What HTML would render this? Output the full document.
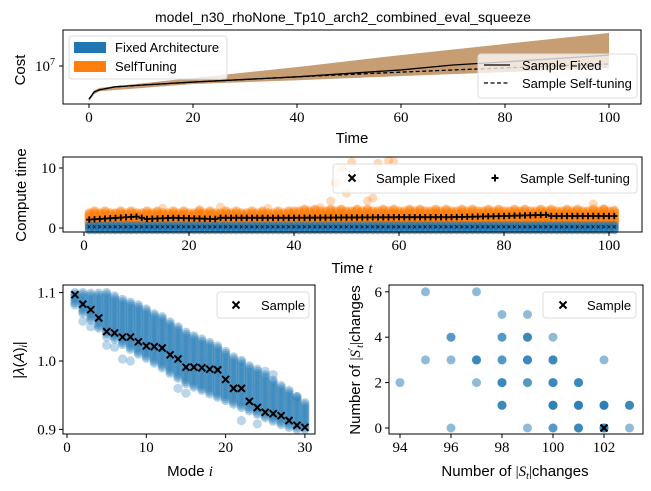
<!DOCTYPE html>
<html><head><meta charset="utf-8"><style>
body{margin:0;background:#fff;width:651px;height:491px;overflow:hidden}
svg{display:block}
text{font-family:"Liberation Sans",sans-serif;fill:#000}
.num{font-family:"Liberation Serif",serif;font-size:15px}
</style></head><body>
<svg id="fig" width="651" height="491"></svg>
<script>
// ---- Top panel data (cost, log scale)
const costT = [0,1,2,5,10,20,40,60,70,80,100];
const costFixed = [2.8e6,3.7e6,4.0e6,4.5e6,4.8e6,5.4e6,6.6e6,8.6e6,1.04e7,1.17e7,1.52e7];
const costSelf = [2.8e6,3.7e6,4.0e6,4.5e6,4.8e6,5.4e6,6.6e6,7.9e6,8.6e6,9.3e6,1.08e7];
const bandT = [0,1,2,20,40,60,80,100];
const bandUpper = [2.9e6,3.9e6,4.3e6,6.3e6,9.6e6,1.52e7,2.33e7,3.55e7];
const bandLower = [2.6e6,3.4e6,3.8e6,5.0e6,5.8e6,6.8e6,7.9e6,9.3e6];
const topXTicks = [0,20,40,60,80,100];
// ---- Middle panel data (compute time)
const selfPlusT = [1,10,11,12,17,25,26,40,60,70,80,88,89,101];
const selfPlusV = [1.4,1.9,1.7,1.5,1.7,1.5,1.7,1.7,1.8,1.8,2.0,2.2,2.0,2.0];
const outT = [15,22,26,35,45,47,48,49,50,51,54,55,56,57,58,59,97,99,101];
const outV = [3.3,3.1,3.5,3.3,3.4,4.5,7.5,10.0,5.8,11.0,4.5,5.0,10.8,7.5,11.2,11.0,4.0,3.2,3.0];
const midXTicks = [0,20,40,60,80,100];
const midYTicks = [0,10];
// ---- Bottom-left data (eigenvalues)
const modes = [1,2,3,4,5,6,7,8,9,10,11,12,13,14,15,16,17,18,19,20,21,22,23,24,25,26,27,28,29,30];
const eigSample = [1.097,1.083,1.075,1.063,1.043,1.041,1.035,1.035,1.028,1.022,1.021,1.019,1.009,1.003,0.991,0.991,0.990,0.988,0.987,0.973,0.960,0.960,0.941,0.932,0.925,0.923,0.920,0.913,0.906,0.903];
const eigUpper = [1.10,1.10,1.10,1.10,1.10,1.097,1.092,1.087,1.082,1.077,1.071,1.065,1.057,1.05,1.044,1.038,1.033,1.028,1.022,1.015,1.008,1.003,0.995,0.988,0.98,0.973,0.965,0.958,0.95,0.94];
const eigLower = [1.082,1.07,1.06,1.048,1.04,1.032,1.024,1.017,1.01,1.004,0.997,0.99,0.982,0.975,0.967,0.962,0.957,0.952,0.947,0.942,0.937,0.932,0.927,0.922,0.917,0.912,0.907,0.903,0.9,0.9];
const eigOutM = [2,3,5,5,6,7,8,14,15,22,24,25,26,29];
const eigOutV = [1.058,1.05,1.035,1.023,1.02,1.003,1.0,0.96,0.953,0.913,0.908,0.985,0.98,0.948];
const blXTicks = [0,10,20,30];
const blYTicks = [0.9,1.0,1.1];
// ---- Bottom-right data (changes)
const chX = [94,95,95,96,96,96,97,97,97,98,98,98,98,98,99,99,99,99,99,100,100,100,100,100,101,101,101,102,102,102,103,103];
const chY = [2,6,3,4,3,0,6,3,2,5,4,3,2,1,5,4,3,2,0,4,3,2,1,0,2,1,0,3,1,0,1,0];
const chCount = [1,1,1,2,1,1,1,3,1,1,2,2,3,3,1,3,3,2,1,1,3,3,4,2,3,4,3,1,4,3,3,1];
const chSampleX = [102], chSampleY = [0];
const brXTicks = [94,96,98,100,102];
const brYTicks = [0,2,4,6];

const NS="http://www.w3.org/2000/svg";
const svg=document.getElementById('fig');
function el(tag,attrs,parent,txt){const e=document.createElementNS(NS,tag);for(const k in attrs)e.setAttribute(k,attrs[k]);if(txt!==undefined)e.textContent=txt;(parent||svg).appendChild(e);return e;}
function xMark(g,x,y,s,sw,col){const p=el('path',{d:`M${x-s},${y-s}L${x+s},${y+s}M${x-s},${y+s}L${x+s},${y-s}`,stroke:col,'stroke-width':sw},g);return p;}
function plusMark(g,x,y,s,sw,col){const p=el('path',{d:`M${x-s},${y}L${x+s},${y}M${x},${y-s}L${x},${y+s}`,stroke:col,'stroke-width':sw},g);return p;}
function interp(xs,ys,x){for(let i=0;i<xs.length-1;i++){if(x>=xs[i]&&x<=xs[i+1]){const f=(x-xs[i])/(xs[i+1]-xs[i]);return ys[i]+f*(ys[i+1]-ys[i]);}}return ys[ys.length-1];}
function frame(g,l,t,r,b){const f=el('rect',{x:l,y:t,width:r-l,height:b-t,fill:'none',stroke:'#000','stroke-width':1},g);}
function xtick(g,x,b,label){el('line',{x1:x,y1:b,x2:x,y2:b+4,stroke:'#000'},g);const t=el('text',{x:x,y:b+18,'text-anchor':'middle',class:'num'},g,label);}
function ytick(g,y,l,label){el('line',{x1:l-4,y1:y,x2:l,y2:y,stroke:'#000'},g);const t=el('text',{x:l-7,y:y+5,'text-anchor':'end',class:'num'},g,label);}
const BLUE='#1f77b4',ORANGE='#ff7f0e';

// ===== Title
const title=el('text',{x:343,y:22,'text-anchor':'middle','font-size':'14'},svg,'model_n30_rhoNone_Tp10_arch2_combined_eval_squeeze');


// ===== Top panel
{
const g=el('g',{});
const L=63,T=30,R=641,B=104;
const X=t=>89+t*5.2, Y=c=>66-(Math.log10(c)-7)*60;
const clip=el('clipPath',{id:'c1'},g);el('rect',{x:L,y:T,width:R-L,height:B-T},clip);
const band=(col)=>{let d='';for(let i=0;i<bandT.length;i++)d+=(i?'L':'M')+X(bandT[i])+','+Y(bandUpper[i]);for(let i=bandT.length-1;i>=0;i--)d+='L'+X(bandT[i])+','+Y(bandLower[i]);return el('path',{d:d+'Z',fill:col,'fill-opacity':0.5,'clip-path':'url(#c1)'},g);};
const b1=band(BLUE);
const b2=band(ORANGE);
const line=(vals,dash)=>el('path',{d:costT.map((t,i)=>(i?'L':'M')+X(t)+','+Y(vals[i])).join(''),fill:'none',stroke:'#000','stroke-width':1.3,'stroke-dasharray':dash},g);
const l1=line(costFixed,'none');
const l2=line(costSelf,'4,2.5');
frame(g,L,T,R,B);
topXTicks.forEach(t=>xtick(g,X(t),B,t));
el('line',{x1:L-4,y1:Y(1e7),x2:L,y2:Y(1e7),stroke:'#000'},g);
const yt=el('text',{x:L-8,y:Y(1e7)+5,'text-anchor':'end',class:'num'},g);
yt.innerHTML='10<tspan dy="-6" font-size="10">7</tspan>';
const xl=el('text',{x:352,y:143,'text-anchor':'middle','font-size':'15'},g,'Time');
const yl=el('text',{x:0,y:0,'text-anchor':'middle','font-size':'15',transform:'translate(25,70) rotate(-90)'},g,'Cost');
const lg=el('g',{},g);
el('rect',{x:69,y:36,width:158,height:43,rx:3,fill:'#fff','fill-opacity':0.8,stroke:'#ddd'},lg);
el('rect',{x:74,y:42,width:32,height:11,fill:BLUE},lg);
el('rect',{x:74,y:61,width:32,height:11,fill:ORANGE},lg);
let t1=el('text',{x:115,y:52,'font-size':'13'},lg,'Fixed Architecture');
let t2=el('text',{x:115,y:71,'font-size':'13'},lg,'SelfTuning');
const lr=el('g',{},g);
el('rect',{x:478,y:54,width:159,height:44,rx:3,fill:'#fff','fill-opacity':0.75,stroke:'#ddd'},lr);
el('line',{x1:484,y1:65,x2:510,y2:65,stroke:'#000','stroke-width':1.3},lr);
el('line',{x1:484,y1:83,x2:510,y2:83,stroke:'#000','stroke-width':1.3,'stroke-dasharray':'4,2.5'},lr);
let t3=el('text',{x:522,y:70,'font-size':'13'},lr,'Sample Fixed');
let t4=el('text',{x:522,y:88,'font-size':'13'},lr,'Sample Self-tuning');
}

// ===== Middle panel
{
const g=el('g',{});
const L=63,T=157,R=642,B=232;
const X=t=>84+t*5.25, Y=v=>228-v*6;
for(let t=1;t<=101;t++){
  const top=(t<40?2.5:2.8)+((t*7)%5)*0.1;
  for(let v=0.7;v<=top;v+=0.3){const c=el('circle',{cx:X(t),cy:Y(v),r:4.8,fill:ORANGE,'fill-opacity':0.5},g);}
}
outT.forEach((t,i)=>{const c=el('circle',{cx:X(t),cy:Y(outV[i]),r:4.5,fill:ORANGE,'fill-opacity':0.3},g);});
for(let t=1;t<=101;t++){
  for(let v=-0.3;v<=0.4;v+=0.35){const c=el('circle',{cx:X(t),cy:Y(v),r:4.5,fill:BLUE,'fill-opacity':0.6},g);}
  xMark(g,X(t),Y(0.2),1.6,1,'#1a1a1a');
}
for(let t=1;t<=101;t++){plusMark(g,X(t),Y(interp(selfPlusT,selfPlusV,t)),3.2,1.8,'#000');}
frame(g,L,T,R,B);
midXTicks.forEach(t=>xtick(g,X(t),B,t));
midYTicks.forEach(v=>ytick(g,Y(v),L,v));
const xl=el('text',{x:352,y:273,'text-anchor':'middle','font-size':'15'},g);
xl.innerHTML='Time <tspan font-family="Liberation Serif" font-style="italic">t</tspan>';
const yl=el('text',{x:0,y:0,'text-anchor':'middle','font-size':'15',transform:'translate(26,195) rotate(-90)'},g,'Compute time');
const lg=el('g',{},g);
el('rect',{x:333,y:164,width:304,height:29,rx:3,fill:'#fff','fill-opacity':0.8,stroke:'#ddd'},lg);
xMark(lg,352,178,3.5,2,'#000');
plusMark(lg,495,178,3.5,2,'#000');
let a=el('text',{x:376,y:183,'font-size':'13'},lg,'Sample Fixed');
let b=el('text',{x:520,y:183,'font-size':'13'},lg,'Sample Self-tuning');
}

// ===== Bottom-left panel
{
const g=el('g',{});
const L=63,T=285,R=315,B=434;
const X=m=>67+m*7.93, Y=v=>361-(v-1)*684;
modes.forEach((m,i)=>{for(let v=eigLower[i];v<=eigUpper[i]+1e-9;v+=0.003){const c=el('circle',{cx:X(m),cy:Y(v),r:4.6,fill:BLUE,'fill-opacity':0.35},g);}});
eigOutM.forEach((m,i)=>{const c=el('circle',{cx:X(m),cy:Y(eigOutV[i]),r:4.6,fill:BLUE,'fill-opacity':0.3},g);});
modes.forEach((m,i)=>xMark(g,X(m),Y(eigSample[i]),3.5,2,'#000'));
frame(g,L,T,R,B);
blXTicks.forEach(t=>xtick(g,X(t),B,t));
blYTicks.forEach(v=>ytick(g,Y(v),L,v.toFixed(1)));
const xl=el('text',{x:190,y:476,'text-anchor':'middle','font-size':'15'},g);
xl.innerHTML='Mode <tspan font-family="Liberation Serif" font-style="italic">i</tspan>';
const yl=el('text',{x:0,y:0,'text-anchor':'middle','font-size':'15','font-family':'Liberation Serif',transform:'translate(24,360) rotate(-90)'},g);
yl.innerHTML='|<tspan font-style="italic">λ</tspan>(<tspan font-style="italic">A</tspan>)<tspan font-style="italic" font-size="10" dy="3">i</tspan><tspan dy="-3">|</tspan>';
const lg=el('g',{},g);
el('rect',{x:217,y:292,width:92,height:26,rx:3,fill:'#fff','fill-opacity':0.8,stroke:'#ddd'},lg);
xMark(lg,236,305,3.5,2,'#000');
let a=el('text',{x:261,y:310,'font-size':'13'},lg,'Sample');
}

// ===== Bottom-right panel
{
const g=el('g',{});
const L=389,T=285,R=643,B=434;
const X=v=>400+(v-94)*25.5, Y=v=>428-v*22.7;
chX.forEach((x,i)=>{for(let k=0;k<chCount[i];k++){const c=el('circle',{cx:X(x),cy:Y(chY[i]),r:4.5,fill:BLUE,'fill-opacity':0.5},g);}});
chSampleX.forEach((x,i)=>xMark(g,X(x),Y(chSampleY[i]),3.5,2,'#000'));
frame(g,L,T,R,B);
brXTicks.forEach(t=>xtick(g,X(t),B,t));
brYTicks.forEach(v=>ytick(g,Y(v),L,v));
const xl=el('text',{x:515,y:476,'text-anchor':'middle','font-size':'15'},g);
xl.innerHTML='Number of <tspan font-family="Liberation Serif">|<tspan font-style="italic">S</tspan><tspan font-style="italic" font-size="10" dy="3">t</tspan><tspan dy="-3">|</tspan></tspan>changes';
const yl=el('text',{x:0,y:0,'text-anchor':'middle','font-size':'15',transform:'translate(360,360) rotate(-90)'},g);
yl.innerHTML='Number of <tspan font-family="Liberation Serif">|<tspan font-style="italic">S</tspan><tspan font-size="10" dy="-5">′</tspan><tspan font-style="italic" font-size="10" dy="8">t</tspan><tspan dy="-3">|</tspan></tspan>changes';
const lg=el('g',{},g);
el('rect',{x:543,y:292,width:93,height:26,rx:3,fill:'#fff','fill-opacity':0.8,stroke:'#ddd'},lg);
xMark(lg,563,305,3.5,2,'#000');
let a=el('text',{x:587,y:310,'font-size':'13'},lg,'Sample');
}
</script>
</body></html>
